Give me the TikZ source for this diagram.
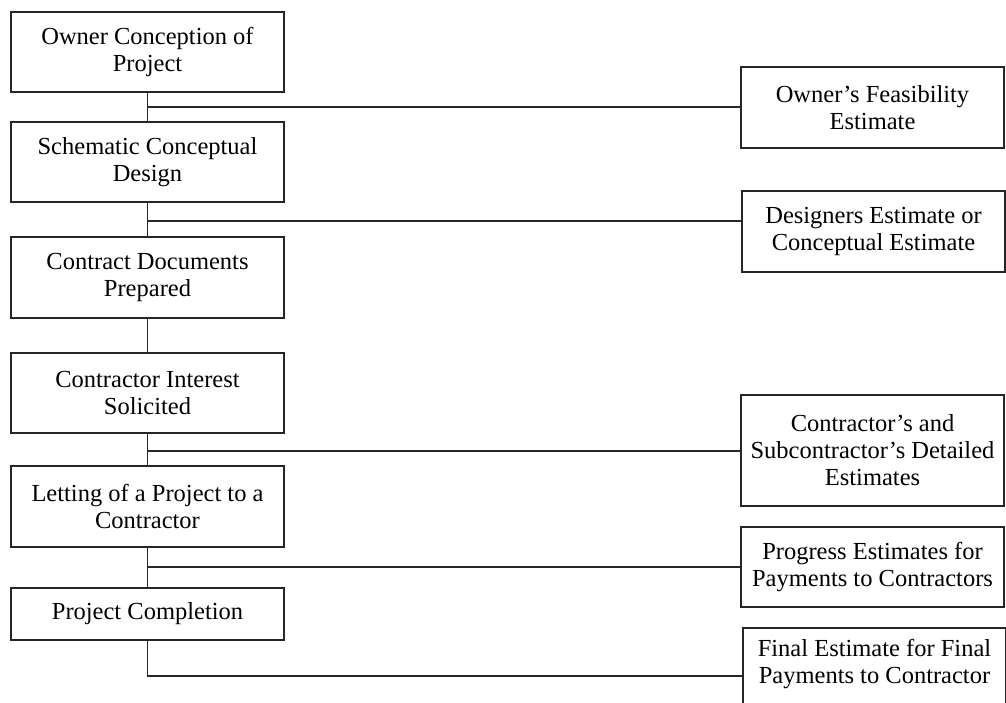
\documentclass[tikz,border=0pt]{standalone}
\usepackage{fontspec}
\setmainfont{Liberation Serif}
\begin{document}
\begin{tikzpicture}[x=1pt,y=1pt,
  box/.style={draw=black!85, line width=1.9pt, align=center, inner sep=2pt,
              font=\fontsize{24.5}{27}\selectfont, minimum width=273pt},
  rbox/.style={box, minimum width=263pt},
  lbl/.style={align=center, inner sep=0pt, font=\fontsize{24.5}{27}\selectfont},
  link/.style={draw=black!85, line width=1.9pt}]
\useasboundingbox (0,0) rectangle (1006,-702);
\clip (0,0) rectangle (1006,-702);
% left column
\node[box, minimum height=80pt] (b1) at (147.5,-52) {Owner Conception of\\Project};
\node[box, minimum height=80pt] (b2) at (147.5,-162) {Schematic Conceptual\\Design};
\node[box, minimum height=81pt] (b3) at (147.5,-277.5) {Contract Documents\\Prepared};
\node[box, minimum height=80pt] (b4) at (147.5,-393) {Contractor Interest\\Solicited};
\node[box, minimum height=81pt] (b5) at (147.5,-506.5) {Letting of a Project to a\\Contractor};
\node[box, minimum height=52pt] (b6) at (147.5,-614) {Project Completion};
% right column
\node[rbox, minimum height=81pt] (r1) at (872.5,-107.5) {Owner's Feasibility\\Estimate};
\node[rbox, minimum height=81pt] (r2) at (873.5,-231.5) {Designers Estimate or\\Conceptual Estimate};
\node[rbox, minimum height=111pt] (r3) at (872.5,-450.5) {Contractor's and\\Subcontractor's Detailed\\Estimates};
\node[rbox, minimum height=80pt] (r4) at (872.5,-567) {Progress Estimates for\\Payments to Contractors};
\node[rbox, minimum height=96pt] (r5) at (874.5,-676) {};
\node[lbl, anchor=north] (r5t) at ([yshift=-12pt]r5.north) {Final Estimate for Final\\Payments to Contractor};
% junctions on the spine
\coordinate (j1) at (147.5,-107);
\coordinate (j2) at (147.5,-221);
\coordinate (j3) at (147.5,-451);
\coordinate (j4) at (147.5,-567);
\coordinate (j5) at (147.5,-676);
% spine
\draw[link] (b1.south) -- (b2.north);
\draw[link] (b2.south) -- (b3.north);
\draw[link] (b3.south) -- (b4.north);
\draw[link] (b4.south) -- (b5.north);
\draw[link] (b5.south) -- (b6.north);
\draw[link] (b6.south) -- (j5) -- (r5.west |- j5);
% branches
\draw[link] (j1) -- (r1.west |- j1);
\draw[link] (j2) -- (r2.west |- j2);
\draw[link] (j3) -- (r3.west |- j3);
\draw[link] (j4) -- (r4.west |- j4);
\end{tikzpicture}
\end{document}
